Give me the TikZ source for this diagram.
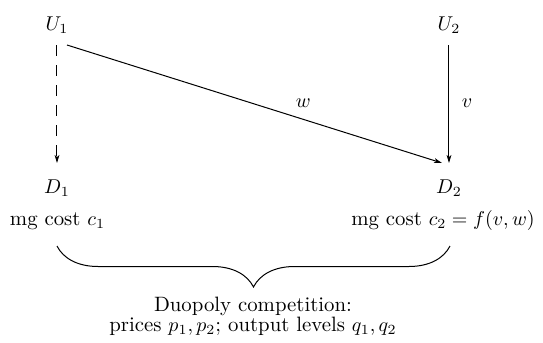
\documentclass[tikz,border=0pt]{standalone}
\usetikzlibrary{arrows.meta,decorations.pathreplacing}
\begin{document}
\begin{tikzpicture}[x=0.5pt,y=-0.5pt,
  lbl/.style={inner sep=0pt,anchor=base,font=\fontsize{10.4pt}{12pt}\selectfont},
  conn/.style={line width=0.5pt,-{Stealth[length=4pt,width=2.4pt,inset=1pt]}},
  dashconn/.style={conn,dash pattern=on 5.5pt off 4.5pt},
  edgelbl/.style={inner sep=0pt,font=\fontsize{10.4pt}{12pt}\selectfont}]
\useasboundingbox (0,0) rectangle (543,343);
\node[lbl] (U1) at (57,30) {$U_1$};
\node[lbl] (U2) at (449,30) {$U_2$};
\node[lbl] (D1) at (57,193) {$D_1$};
\node[lbl] (D2) at (449,193) {$D_2$};
\node[lbl] (C1) at (57.5,225) {mg cost $c_1$};
\node[lbl] (C2) at (443,225) {mg cost $c_2 = f(v,w)$};
\draw[dashconn] ([yshift=-7.5pt]U1.base) -- ([yshift=15pt]D1.base);
\draw[conn] ([yshift=-7.5pt]U2.base) -- node[edgelbl,pos=0.49,xshift=9pt]{$v$} ([yshift=15pt]D2.base);
\draw[conn] ([shift={(5pt,-7.5pt)}]U1.base) -- node[edgelbl,pos=0.63,yshift=8pt]{$w$} ([shift={(-3.5pt,15pt)}]D2.base);
\coordinate (BL) at (57,246);
\coordinate (BR) at (450,246);
\draw[line width=0.5pt,decorate,decoration={brace,mirror,amplitude=20.5pt}] (BL) -- (BR);
\node[inner sep=0pt,anchor=north,align=center,font=\fontsize{10.4pt}{10pt}\selectfont] (duo) at (253,296.5)
  {Duopoly competition:\\ prices $p_1,p_2$; output levels $q_1,q_2$};
\end{tikzpicture}
\end{document}
